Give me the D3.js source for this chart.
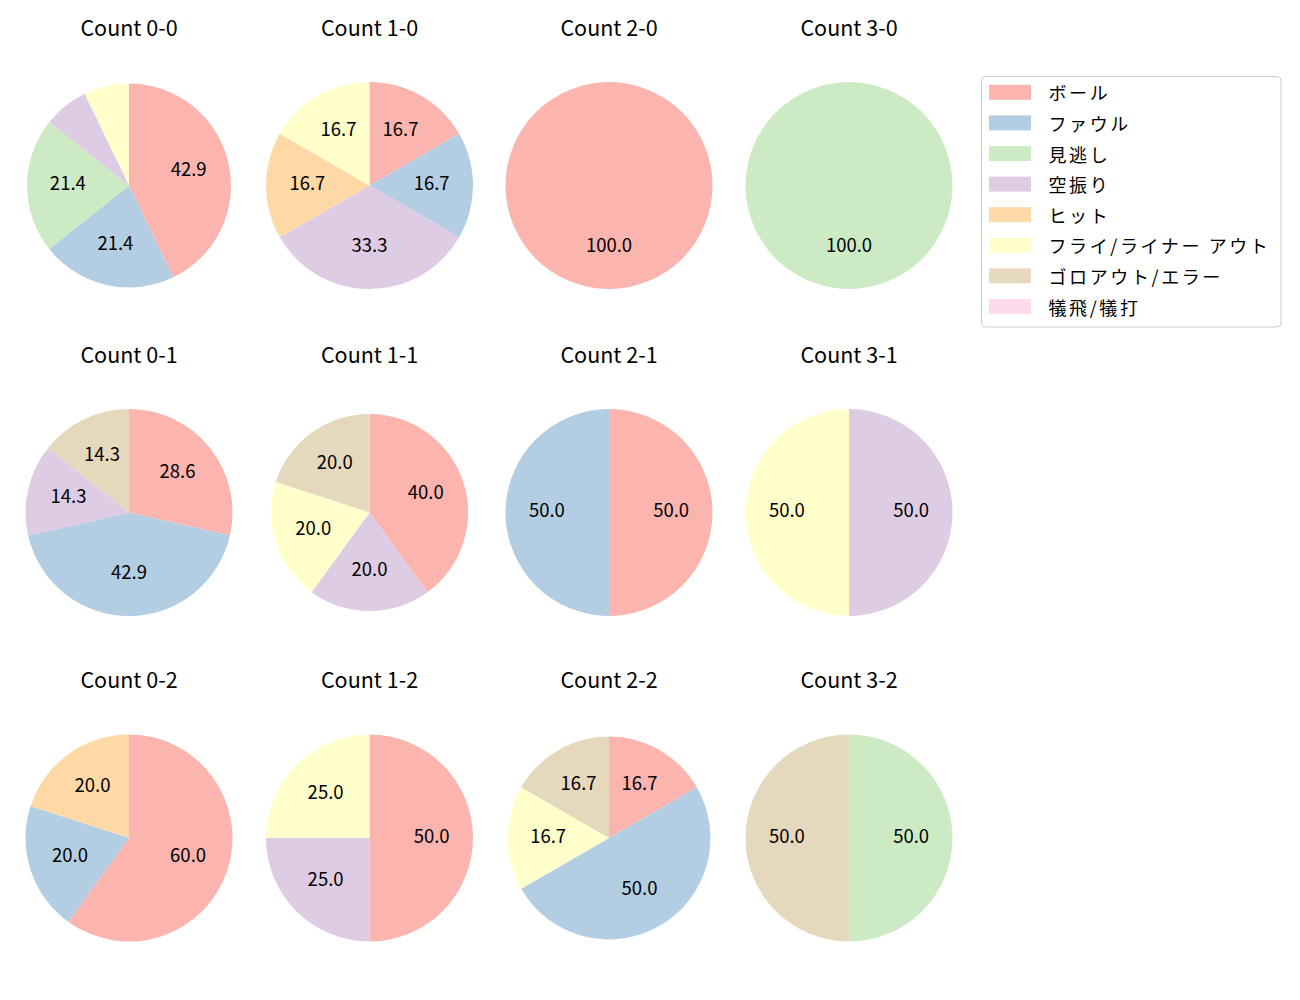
<!DOCTYPE html>
<html>
<head>
<meta charset="utf-8">
<script src="https://cdn.jsdelivr.net/npm/d3@7"></script>
<style>
	body { margin: 0; background: #fff; }
	text { font-family: "Noto Sans CJK JP", "Noto Sans", sans-serif; fill: #000; }
</style>
</head>
<body>
<div id="chart"></div>
<script>
// outcome categories (legend order)
const categories = ['ボール', 'ファウル', '見逃し', '空振り', 'ヒット', 'フライ/ライナー アウト', 'ゴロアウト/エラー', '犠飛/犠打'];

// count titles, row by row
const counts = ['0-0', '1-0', '2-0', '3-0', '0-1', '1-1', '2-1', '3-1', '0-2', '1-2', '2-2', '3-2'];

// pitches per category for each count
const count00 = [6, 3, 3, 1, 0, 1, 0, 0];
const count10 = [1, 1, 0, 2, 1, 1, 0, 0];
const count20 = [1, 0, 0, 0, 0, 0, 0, 0];
const count30 = [0, 0, 1, 0, 0, 0, 0, 0];
const count01 = [2, 3, 0, 1, 0, 0, 1, 0];
const count11 = [2, 0, 0, 1, 0, 1, 1, 0];
const count21 = [1, 1, 0, 0, 0, 0, 0, 0];
const count31 = [0, 0, 0, 1, 0, 1, 0, 0];
const count02 = [3, 1, 0, 0, 1, 0, 0, 0];
const count12 = [2, 0, 0, 1, 0, 1, 0, 0];
const count22 = [1, 3, 0, 0, 0, 1, 1, 0];
const count32 = [0, 0, 1, 0, 0, 0, 1, 0];

const countValues = [count00, count10, count20, count30, count01, count11, count21, count31, count02, count12, count22, count32];

// layout
const width = 1300, height = 1000;
const colCenters = [129, 369.5, 609, 849];
const rowCenters = [185.5, 512.5, 838];
const baseRadius = 103.5;
// matplotlib autoscale makes a few pies slightly smaller
const radiusFactor = { '0-0': 0.985, '1-1': 0.952, '2-2': 0.98 };

const color = d3.scaleOrdinal()
	.domain(categories)
	.range(['#fbb4ae', '#b3cde3', '#ccebc5', '#decbe4', '#fed9a6', '#ffffcc', '#e5d8bd', '#fddaec']);

const svg = d3.select('#chart').append('svg')
	.attr('width', width)
	.attr('height', height);

const pie = d3.pie().sort(null).value(d => d.value);

counts.forEach((name, i) => {
	const cx = colCenters[i % 4];
	const cy = rowCenters[Math.floor(i / 4)];
	const r = baseRadius * (radiusFactor[name] || 1);
	const values = countValues[i];
	const total = d3.sum(values);

	const data = categories.map((c, j) => ({ cat: c, value: values[j] })).filter(d => d.value > 0);

	const g = svg.append('g').attr('transform', `translate(${cx},${cy})`);

	const arc = d3.arc().innerRadius(0).outerRadius(r);
	const labelArc = d3.arc().innerRadius(r * 0.6).outerRadius(r * 0.6);

	const arcs = pie(data);

	g.selectAll('path')
		.data(arcs)
		.join('path')
		.attr('d', arc)
		.attr('fill', d => color(d.data.cat));

	// percent labels, small slices left blank
	g.selectAll('.pct')
		.data(arcs.filter(d => d.data.value / total >= 0.1))
		.join('text')
		.attr('class', 'pct')
		.attr('transform', d => `translate(${labelArc.centroid(d)})`)
		.attr('text-anchor', 'middle')
		.attr('dominant-baseline', 'central')
		.attr('dy', '-0.19em')
		.style('font-size', '18.5px')
		.text(d => (d.data.value / total * 100).toFixed(1));

	svg.append('text')
		.attr('x', cx)
		.attr('y', cy - 150)
		.attr('text-anchor', 'middle')
		.style('font-size', '21.5px')
		.text(`Count ${name}`);
});

// legend
const legend = svg.append('g').attr('transform', 'translate(981.5,76.5)');

legend.append('rect')
	.attr('width', 299.5)
	.attr('height', 250.5)
	.attr('rx', 4)
	.attr('fill', '#fff')
	.attr('stroke', '#cccccc')
	.attr('stroke-width', 1);

const items = legend.selectAll('.item')
	.data(categories)
	.join('g')
	.attr('class', 'item')
	.attr('transform', (d, i) => `translate(0,${15.8 + i * 30.6})`);

items.append('rect')
	.attr('x', 7.5)
	.attr('y', -7.5)
	.attr('width', 42)
	.attr('height', 15)
	.attr('fill', d => color(d));

items.append('text')
	.attr('x', 67)
	.attr('dominant-baseline', 'central')
	.style('font-size', '18px')
	.style('letter-spacing', '2.6px')
	.text(d => d);
</script>
</body>
</html>
